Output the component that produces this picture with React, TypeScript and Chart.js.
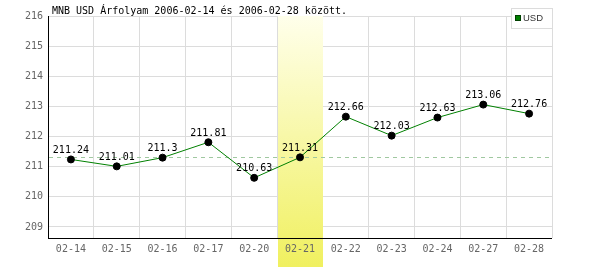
import React, { useEffect, useRef } from "react";
import { Chart, registerables } from "chart.js";

Chart.register(...registerables);

const categories = ["02-14", "02-15", "02-16", "02-17", "02-20", "02-21", "02-22", "02-23", "02-24", "02-27", "02-28"];
const usdValues = [211.24, 211.01, 211.3, 211.81, 210.63, 211.31, 212.66, 212.03, 212.63, 213.06, 212.76];
const yTickValues = [209, 210, 211, 212, 213, 214, 215, 216];
const highlightIndex = 5;
const yMin = 208.633;
const yMax = 216;
const titleText = "MNB USD Árfolyam 2006-02-14 és 2006-02-28 között.";
const legendLabel = "USD";

const MONO = "'DejaVu Sans Mono', monospace";

const overlayPlugin = {
  id: "overlay",
  beforeDatasetsDraw(chart: any) {
    const { ctx, chartArea, scales } = chart;
    const x = scales.x;
    const y = scales.y;
    const half = (x.getPixelForValue(1) - x.getPixelForValue(0)) / 2;
    const cx = x.getPixelForValue(highlightIndex);
    const left = Math.round(cx - half) + 1;
    const right = Math.round(cx + half);
    ctx.save();
    const grad = ctx.createLinearGradient(0, chartArea.top, 0, chart.height - 3);
    grad.addColorStop(0, "rgba(255,255,235,1)");
    grad.addColorStop(1, "rgba(240,240,95,1)");
    ctx.fillStyle = grad;
    ctx.fillRect(left, chartArea.top, right - left, chart.height - 3 - chartArea.top);
    // redraw highlighted tick label
    ctx.fillStyle = "#666";
    ctx.font = "10px " + MONO;
    ctx.textAlign = "center";
    ctx.textBaseline = "middle";
    ctx.fillText(categories[highlightIndex], cx, chartArea.bottom + 11.5);
    // bottom axis line
    ctx.strokeStyle = "#000";
    ctx.lineWidth = 1;
    ctx.beginPath();
    ctx.moveTo(chartArea.left, Math.round(chartArea.bottom) + 0.5);
    ctx.lineTo(chartArea.right, Math.round(chartArea.bottom) + 0.5);
    ctx.stroke();
    // dashed reference line
    const ry = Math.round(y.getPixelForValue(usdValues[highlightIndex])) + 0.5;
    ctx.strokeStyle = "#a0c8a0";
    ctx.setLineDash([4, 4]);
    ctx.beginPath();
    ctx.moveTo(chartArea.left + 1, ry);
    ctx.lineTo(chartArea.right, ry);
    ctx.stroke();
    ctx.setLineDash([]);
    ctx.restore();
  },
  afterDatasetsDraw(chart: any) {
    const { ctx } = chart;
    const meta = chart.getDatasetMeta(0);
    ctx.save();
    ctx.font = "10px " + MONO;
    ctx.fillStyle = "#000";
    ctx.textAlign = "center";
    ctx.textBaseline = "bottom";
    meta.data.forEach((pt: any, i: number) => {
      ctx.fillText(String(usdValues[i]), pt.x, pt.y - 4);
    });
    // title
    ctx.textAlign = "left";
    ctx.textBaseline = "alphabetic";
    ctx.fillText(titleText, 52, 14);
    // legend
    ctx.fillStyle = "#fff";
    ctx.fillRect(511, 8, 41, 20);
    ctx.strokeStyle = "#dcdcdc";
    ctx.strokeRect(511.5, 8.5, 41, 20);
    ctx.fillStyle = "#008000";
    ctx.fillRect(515, 15, 6, 6);
    ctx.strokeStyle = "#004000";
    ctx.strokeRect(515.5, 15.5, 5, 5);
    ctx.fillStyle = "#333";
    ctx.font = "9.5px 'Liberation Sans', sans-serif";
    ctx.textBaseline = "middle";
    ctx.fillText(legendLabel, 523, 18.5);
    ctx.restore();
  },
};

export default function App() {
  const ref = useRef<HTMLCanvasElement>(null);
  useEffect(() => {
    document.body.style.margin = "0";
    const chart = new Chart(ref.current!, {
      type: "line",
      data: {
        labels: categories,
        datasets: [
          {
            label: legendLabel,
            data: usdValues,
            borderColor: "#008000",
            borderWidth: 1,
            pointBackgroundColor: "#000",
            pointBorderColor: "#000",
            pointRadius: 3.5,
            tension: 0,
          },
        ],
      },
      options: {
        animation: false,
        responsive: false,
        layout: { padding: { top: 16, right: 48, left: 0, bottom: 0 } },
        plugins: { legend: { display: false }, tooltip: { enabled: false }, title: { display: false } },
        scales: {
          x: {
            offset: true,
            grid: { offset: true, color: "#dcdcdc", drawTicks: false },
            border: { display: false },
            ticks: { color: "#666", font: { family: MONO, size: 10 }, padding: 5, maxRotation: 0, autoSkip: false },
            afterFit(scale: any) {
              scale.height = 32;
            },
          },
          y: {
            min: yMin,
            max: yMax,
            grid: { color: "#dcdcdc", drawTicks: false },
            border: { display: true, color: "#000" },
            ticks: { color: "#666", font: { family: MONO, size: 10 }, padding: 5 },
            afterBuildTicks(scale: any) {
              scale.ticks = yTickValues.map((v) => ({ value: v }));
            },
            afterFit(scale: any) {
              scale.width = 48;
            },
          },
        },
      },
      plugins: [overlayPlugin],
    });
    return () => chart.destroy();
  }, []);
  return <canvas ref={ref} width={600} height={270} style={{ display: "block" }} />;
}
